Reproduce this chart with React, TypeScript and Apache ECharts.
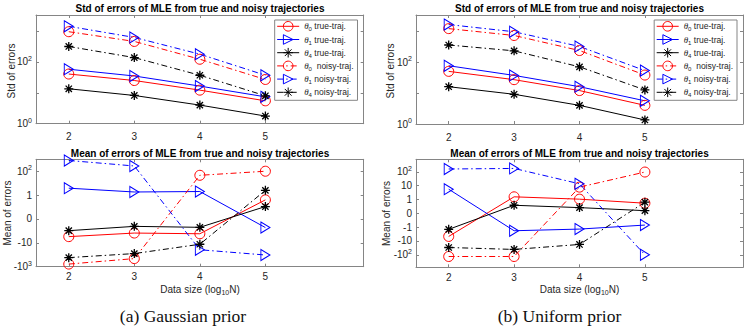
import React, { useEffect, useRef } from 'react';
import * as echarts from 'echarts';

// ---------- data ----------
const xValues = [2, 3, 4, 5];
const seriesNames = ['θ0 true-traj.', 'θ1 true-traj.', 'θ4 true-traj.', 'θ0  noisy-traj.', 'θ1 noisy-traj.', 'θ4 noisy-traj.'];

// (a) Gaussian prior — std of errors (log scale)
const gStdT0True = [40.5, 25, 12.2, 5.5];
const gStdT1True = [58, 35, 16.5, 7.4];
const gStdT4True = [13.5, 8.2, 4.0, 1.77];
const gStdT0Noisy = [950, 460, 122, 27];
const gStdT1Noisy = [1420, 620, 178, 37];
const gStdT4Noisy = [316, 138, 37, 8.0];

// (a) Gaussian prior — mean of errors (symmetric-log tick positions)
const gMeanT0True = [-0.74, -0.59, -0.62, 0.8];
const gMeanT1True = [1.29, 1.13, 1.15, -0.36];
const gMeanT4True = [-0.49, -0.31, -0.35, 0.52];
const gMeanT0Noisy = [-1.89, -1.66, 1.83, 2.0];
const gMeanT1Noisy = [2.45, 2.22, -1.29, -1.51];
const gMeanT4Noisy = [-1.62, -1.45, -1.06, 1.2];

// (b) Uniform prior — std of errors
const uStdT0True = [50, 27, 12, 4.0];
const uStdT1True = [76, 37, 16, 5.6];
const uStdT4True = [16, 9.1, 4.0, 1.35];
const uStdT0Noisy = [1200, 720, 235, 38];
const uStdT1Noisy = [1620, 950, 318, 53];
const uStdT4Noisy = [355, 230, 70, 12.6];

// (b) Uniform prior — mean of errors
const uMeanT0True = [-1.67, 1.19, 1.02, 0.73];
const uMeanT1True = [1.74, -1.26, -1.14, -0.85];
const uMeanT4True = [-1.16, 0.58, 0.41, 0.19];
const uMeanT0Noisy = [-3.12, -3.12, 1.89, 2.98];
const uMeanT1Noisy = [3.2, 3.24, 2.13, -3.0];
const uMeanT4Noisy = [-2.47, -2.61, -2.25, 0.8];

// tick labels
const stdTickValues = [1, 100];
const stdTickLabels = ['10^0', '10^2'];
const gMeanTicks = [-2, -1, 0, 1, 2];
const gMeanTickLabels = ['-10^3', '-10', '0', '1', '10^2'];
const uMeanTicks = [-3, -2, -1, 0, 1, 2, 3];
const uMeanTickLabels = ['-10^2', '-10', '-1', '0', '1', '10', '10^2'];

// ---------- styles ----------
const AX = '#858585';
const LBL = '#262626';
const DASHDOT = [6, 3, 1.5, 3];
const colors = ['#ff0000', '#0000ff', '#000000', '#ff0000', '#0000ff', '#000000'];
const symbols = [
  'circle',
  'path://M0,0L10,5L0,10Z',
  'path://M5,0L5,10M0,5L10,5M1.5,1.5L8.5,8.5M1.5,8.5L8.5,1.5',
  'circle',
  'path://M0,0L10,5L0,10Z',
  'path://M5,0L5,10M0,5L10,5M1.5,1.5L8.5,8.5M1.5,8.5L8.5,1.5',
];
const symbolSizes: any[] = [10, [9, 11], 9, 10, [9, 11], 9];

const supRich = {
  b: { fontSize: 10, lineHeight: 14, color: LBL, fontFamily: 'Liberation Sans' },
  s: { fontSize: 7, lineHeight: 7, verticalAlign: 'top', color: LBL, fontFamily: 'Liberation Sans' },
};
const toRich = (lbl: string) => {
  const p = lbl.split('^');
  return p.length > 1 ? `{b|${p[0]}}{s|${p[1]}}` : `{b|${p[0]}}`;
};

export default function App() {
  const ref = useRef<HTMLDivElement>(null);
  useEffect(() => {
    if (!ref.current) return;
    const chart = echarts.init(ref.current, null, { renderer: 'svg' });

    const grids = [
      { left: 36, top: 15, width: 327.7, height: 108.7 },
      { left: 36, top: 159.3, width: 327.7, height: 107.4 },
      { left: 416, top: 15, width: 327, height: 109 },
      { left: 416, top: 159.3, width: 327, height: 108 },
    ];

    const baseAxis = (extra: any) => ({
      axisLine: { show: true, onZero: false, lineStyle: { color: AX, width: 1 } },
      axisTick: { show: true, inside: true, length: 3, lineStyle: { color: AX } },
      splitLine: { show: false },
      ...extra,
    });

    const xAxes: any[] = [];
    const yAxes: any[] = [];
    grids.forEach((_, gi) => {
      xAxes.push(baseAxis({
        type: 'value', gridIndex: gi, position: 'bottom', min: 1.5, max: 6.5,
        axisTick: { show: true, inside: true, length: 3, lineStyle: { color: AX }, customValues: xValues },
        axisLabel: { customValues: xValues, fontSize: 10, color: LBL, margin: gi % 2 === 0 ? 8 : 5 },
      }));
      xAxes.push(baseAxis({
        type: 'value', gridIndex: gi, position: 'top', min: 1.5, max: 6.5,
        axisTick: { show: true, inside: true, length: 3, lineStyle: { color: AX }, customValues: xValues },
        axisLabel: { show: false },
      }));
      if (gi % 2 === 0) {
        const fmt = (v: number) => {
          for (let k = 0; k < stdTickValues.length; k++) {
            if (Math.abs(Math.log10(v) - Math.log10(stdTickValues[k])) < 1e-6) return toRich(stdTickLabels[k]);
          }
          return '';
        };
        yAxes.push(baseAxis({
          type: 'log', logBase: 10, gridIndex: gi, position: 'left', min: 1, max: 3300,
          axisLabel: { formatter: fmt, margin: 4, rich: supRich },
        }));
        yAxes.push(baseAxis({
          type: 'log', logBase: 10, gridIndex: gi, position: 'right', min: 1, max: 3300,
          axisLabel: { show: false },
        }));
      } else {
        const ticks = gi === 1 ? gMeanTicks : uMeanTicks;
        const labels = gi === 1 ? gMeanTickLabels : uMeanTickLabels;
        const mn = gi === 1 ? -2 : -3.9;
        const mx = gi === 1 ? 2.5 : 3.9;
        const fmt = (v: number) => {
          const k = ticks.findIndex((t) => Math.abs(t - v) < 1e-6);
          return k >= 0 ? toRich(labels[k]) : '';
        };
        yAxes.push(baseAxis({
          type: 'value', gridIndex: gi, position: 'left', min: mn, max: mx,
          axisTick: { show: true, inside: true, length: 3, lineStyle: { color: AX }, customValues: ticks },
          axisLabel: { customValues: ticks, formatter: fmt, margin: 4, rich: supRich },
        }));
        yAxes.push(baseAxis({
          type: 'value', gridIndex: gi, position: 'right', min: mn, max: mx,
          axisTick: { show: true, inside: true, length: 3, lineStyle: { color: AX }, customValues: ticks },
          axisLabel: { show: false },
        }));
      }
    });

    const plotData = [
      [gStdT0True, gStdT1True, gStdT4True, gStdT0Noisy, gStdT1Noisy, gStdT4Noisy],
      [gMeanT0True, gMeanT1True, gMeanT4True, gMeanT0Noisy, gMeanT1Noisy, gMeanT4Noisy],
      [uStdT0True, uStdT1True, uStdT4True, uStdT0Noisy, uStdT1Noisy, uStdT4Noisy],
      [uMeanT0True, uMeanT1True, uMeanT4True, uMeanT0Noisy, uMeanT1Noisy, uMeanT4Noisy],
    ];

    const series: any[] = [];
    plotData.forEach((group, gi) => {
      group.forEach((vals, si) => {
        series.push({
          type: 'line',
          name: seriesNames[si],
          xAxisIndex: gi * 2,
          yAxisIndex: gi * 2,
          data: xValues.map((x, i) => [x, vals[i]]),
          symbol: symbols[si],
          symbolSize: symbolSizes[si],
          showSymbol: true,
          silent: true,
          lineStyle: { color: colors[si], width: 1, type: si < 3 ? 'solid' : DASHDOT },
          itemStyle: { color: 'rgba(0,0,0,0)', borderColor: colors[si], borderWidth: si % 3 === 2 ? 1.3 : 1 },
          emphasis: { disabled: true },
        });
      });
    });

    const legendRich = {
      t: { fontSize: 9, fontStyle: 'italic', fontFamily: 'Liberation Serif', color: LBL, lineHeight: 12 },
      s: { fontSize: 6, lineHeight: 6, verticalAlign: 'bottom', color: LBL },
      n: { fontSize: 8.5, color: LBL, lineHeight: 12 },
    };
    const legendFmt = (name: string) => `{t|θ}{s|${name[1]}}{n|${name.slice(2)}}`;
    const makeLegend = (right: number) => ({
      orient: 'vertical',
      right,
      top: 20,
      padding: [1, 4, 2, 2],
      itemWidth: 22,
      itemHeight: 12,
      itemGap: 1.9,
      backgroundColor: '#fff',
      borderColor: AX,
      borderWidth: 1,
      data: seriesNames,
      formatter: legendFmt,
      textStyle: { rich: legendRich, fontSize: 8.5, color: LBL },
      itemStyle: { borderWidth: 1 },
      lineStyle: { width: 1 },
      selectedMode: false,
    });

    const subRich = {
      a: { fontSize: 10, lineHeight: 14, fill: LBL, fontFamily: 'Liberation Sans' },
      s: { fontSize: 7, lineHeight: 7, verticalAlign: 'bottom', fill: LBL, fontFamily: 'Liberation Sans' },
    };
    const txt = (x: number, y: number, text: string, extra: any = {}, rot = 0) => ({
      type: 'text', x, y, rotation: rot, silent: true,
      style: {
        text, align: 'center', verticalAlign: 'middle', fill: LBL,
        fontFamily: 'Liberation Sans', fontSize: 10, ...extra,
      },
    });
    const xlabel = '{a|Data size (log}{s|10}{a|N)}';
    const graphics = [
      txt(200, 8.5, 'Std of errors of MLE from true and noisy trajectories', { fontWeight: 'bold', fill: '#000' }),
      txt(579.5, 8.5, 'Std of errors of MLE from true and noisy trajectories', { fontWeight: 'bold', fill: '#000' }),
      txt(200, 153.3, 'Mean of errors of MLE from true and noisy trajectories', { fontWeight: 'bold', fill: '#000' }),
      txt(579.5, 153.3, 'Mean of errors of MLE from true and noisy trajectories', { fontWeight: 'bold', fill: '#000' }),
      txt(11.5, 71, 'Std of errors', {}, Math.PI / 2),
      txt(390, 71, 'Std of errors', {}, Math.PI / 2),
      txt(7.5, 213, 'Mean of errors', {}, Math.PI / 2),
      txt(386.5, 213.5, 'Mean of errors', {}, Math.PI / 2),
      txt(200, 289, xlabel, { rich: subRich }),
      txt(579.5, 289, xlabel, { rich: subRich }),
      txt(183, 316, '(a) Gaussian prior', { fontFamily: 'Liberation Serif', fontSize: 17.5, fill: '#111' }),
      txt(559.5, 316, '(b) Uniform prior', { fontFamily: 'Liberation Serif', fontSize: 17.5, fill: '#111' }),
    ];

    chart.setOption({
      animation: false,
      backgroundColor: '#ffffff',
      textStyle: { fontFamily: 'Liberation Sans' },
      grid: grids.map((g) => ({ ...g, outerBoundsMode: 'none', containLabel: false })),
      xAxis: xAxes,
      yAxis: yAxes,
      legend: [makeLegend(748 - 357.5), makeLegend(748 - 737)],
      series,
      graphic: graphics,
    });
    return () => chart.dispose();
  }, []);
  return <div ref={ref} style={{ position: 'absolute', left: 0, top: 0, width: 748, height: 329 }} />;
}
